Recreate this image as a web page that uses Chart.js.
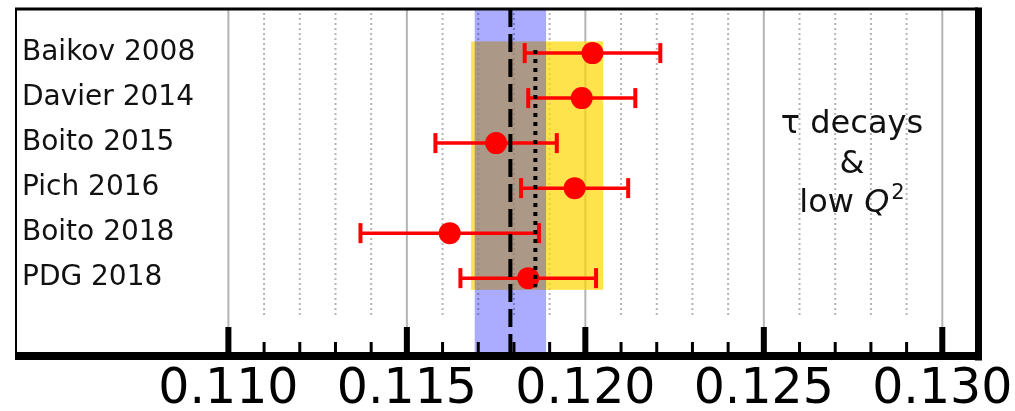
<!DOCTYPE html>
<html>
<head>
<meta charset="utf-8">
<script src="https://cdn.jsdelivr.net/npm/chart.js@4/dist/chart.umd.min.js"></script>
<style>
  html, body { margin: 0; padding: 0; background: #fff; }
  #wrap { width: 1015px; height: 411px; }
</style>
</head>
<body>
<div id="wrap"><canvas id="alphaChart"></canvas></div>
<script>
// alpha_s determinations from tau decays & low Q^2
const studies = ['Baikov 2008', 'Davier 2014', 'Boito 2015', 'Pich 2016', 'Boito 2018', 'PDG 2018'];
const central = [0.1202, 0.1199, 0.1175, 0.1197, 0.1162, 0.1184];
const errLow  = [0.0019, 0.0015, 0.0017, 0.0015, 0.0025, 0.0019];
const errHigh = [0.0019, 0.0015, 0.0017, 0.0015, 0.0025, 0.0019];

// world average (blue) and sub-field average (yellow)
const worldAvg = 0.1179;
const worldBand = [0.1169, 0.1189];
const subAvg = 0.1186;
const subBand = [0.1168, 0.1205];

// axis ticks
const majorTicks = [0.110, 0.115, 0.120, 0.125, 0.130];
const minorTicks = [0.111, 0.112, 0.113, 0.114, 0.116, 0.117, 0.118, 0.119,
                    0.121, 0.122, 0.123, 0.124, 0.126, 0.127, 0.128, 0.129];

const FONT = 'DejaVu Sans';
const RED = '#ff0000';

// points first so they sit on top of the bars
const datasets = [{
  type: 'scatter',
  data: central.map((v, i) => ({ x: v, y: i })),
  pointRadius: 11,
  pointBackgroundColor: RED,
  pointBorderWidth: 0
}];
central.forEach((v, i) => {
  datasets.push({
    type: 'line',
    data: [{ x: v - errLow[i], y: i }, { x: v + errHigh[i], y: i }],
    borderColor: RED,
    borderWidth: 3.5,
    pointStyle: 'line',
    pointRotation: 90,
    pointRadius: 10,
    pointBorderColor: RED,
    pointBorderWidth: 4
  });
});

function noPadding(s) {
  s.paddingLeft = 0; s.paddingRight = 0; s.paddingTop = 0; s.paddingBottom = 0;
}

const overlay = {
  id: 'overlay',
  beforeDatasetsDraw(chart) {
    const { ctx, chartArea: a, scales: { x, y } } = chart;
    ctx.save();
    // grid
    minorTicks.forEach(v => {
      const px = x.getPixelForValue(v);
      ctx.strokeStyle = '#b4b4b4';
      ctx.lineWidth = 2;
      ctx.setLineDash([2, 3]);
      ctx.beginPath(); ctx.moveTo(px, a.top + 4); ctx.lineTo(px, a.bottom - 39); ctx.stroke();
    });
    ctx.setLineDash([]);
    majorTicks.forEach(v => {
      const px = x.getPixelForValue(v);
      ctx.strokeStyle = '#b4b4b4';
      ctx.lineWidth = 2;
      ctx.beginPath(); ctx.moveTo(px, a.top); ctx.lineTo(px, a.bottom - 28); ctx.stroke();
    });
    // yellow band
    const yl = x.getPixelForValue(subBand[0]), yr = x.getPixelForValue(subBand[1]);
    const yt = y.getPixelForValue(-0.26), yb = y.getPixelForValue(5.26);
    ctx.fillStyle = 'rgba(255,215,0,0.7)';
    ctx.fillRect(yl, yt, yr - yl, yb - yt);
    // blue band
    const bl = x.getPixelForValue(worldBand[0]), br = x.getPixelForValue(worldBand[1]);
    ctx.fillStyle = 'rgba(0,0,255,0.33)';
    ctx.fillRect(bl, a.top, br - bl, a.bottom - a.top);
    ctx.restore();
  },
  afterDatasetsDraw(chart) {
    const { ctx, chartArea: a, scales: { x, y } } = chart;
    ctx.save();
    ctx.strokeStyle = '#000';
    // average lines
    let px = x.getPixelForValue(worldAvg);
    ctx.lineWidth = 4;
    ctx.setLineDash([18, 7]);
    ctx.beginPath(); ctx.moveTo(px, a.top); ctx.lineTo(px, a.bottom); ctx.stroke();
    px = x.getPixelForValue(subAvg);
    ctx.setLineDash([4, 5]);
    ctx.beginPath(); ctx.moveTo(px, y.getPixelForValue(-0.07)); ctx.lineTo(px, y.getPixelForValue(5.2)); ctx.stroke();
    ctx.setLineDash([]);
    // tick marks standing on the axis
    ctx.fillStyle = '#000';
    majorTicks.forEach(v => {
      const p = x.getPixelForValue(v);
      ctx.fillRect(p - 3, a.bottom - 29, 6, 29);
    });
    minorTicks.forEach(v => {
      const p = x.getPixelForValue(v);
      ctx.fillRect(p - 1.5, a.bottom - 14, 3, 14);
    });
    // frame
    ctx.fillRect(a.left - 1, a.top - 1.5, a.right - a.left + 1, 3);
    ctx.fillRect(a.left - 1, a.top, 2, a.bottom - a.top);
    ctx.fillRect(a.right - 3, a.top - 1.5, 7, a.bottom - a.top + 6);
    ctx.fillRect(a.left - 1, a.bottom - 4, a.right - a.left + 5, 8);
    // label text
    const cx = x.getPixelForValue(0.12747);
    ctx.fillStyle = '#111';
    ctx.textBaseline = 'alphabetic';
    ctx.textAlign = 'center';
    ctx.font = `32px "${FONT}"`;
    ctx.fillText('τ decays', cx, y.getPixelForValue(1.77));
    ctx.fillText('&', cx, y.getPixelForValue(2.66));
    const base = y.getPixelForValue(3.53);
    const w1 = ctx.measureText('low ').width;
    ctx.font = `italic 32px "${FONT}"`;
    const w2 = ctx.measureText('Q').width;
    ctx.font = `21px "${FONT}"`;
    const w3 = ctx.measureText('2').width;
    let sx = cx - (w1 + w2 + w3 + 2) / 2;
    ctx.textAlign = 'left';
    ctx.font = `32px "${FONT}"`;
    ctx.fillText('low ', sx, base);
    sx += w1;
    ctx.font = `italic 32px "${FONT}"`;
    ctx.fillText('Q', sx, base);
    sx += w2 + 2;
    ctx.font = `21px "${FONT}"`;
    ctx.fillText('2', sx, base - 13);
    ctx.restore();
  }
};

new Chart(document.getElementById('alphaChart'), {
  data: { datasets },
  options: {
    responsive: true,
    maintainAspectRatio: false,
    animation: false,
    events: [],
    layout: { autoPadding: false, padding: { left: 16, right: 37, top: 9, bottom: 0 } },
    plugins: { legend: { display: false }, tooltip: { enabled: false } },
    scales: {
      x: {
        type: 'linear',
        min: 0.10405,
        max: 0.131,
        grid: { display: false },
        border: { display: false },
        afterBuildTicks: s => { s.ticks = majorTicks.map(v => ({ value: v })); },
        afterFit: s => { s.height = 55; noPadding(s); },
        ticks: {
          autoSkip: false,
          maxRotation: 0,
          padding: -3,
          color: '#000',
          font: { family: FONT, size: 49 },
          callback: v => v.toFixed(3)
        }
      },
      y: {
        type: 'linear',
        reverse: true,
        min: -0.98,
        max: 6.73,
        grid: { display: false },
        border: { display: false },
        afterBuildTicks: s => { s.ticks = studies.map((_, i) => ({ value: i })); },
        afterFit: s => { s.width = 0; noPadding(s); },
        ticks: {
          mirror: true,
          padding: 6,
          color: '#111',
          font: { family: FONT, size: 28 },
          callback: v => studies[v]
        }
      }
    }
  },
  plugins: [overlay]
});
</script>
</body>
</html>
